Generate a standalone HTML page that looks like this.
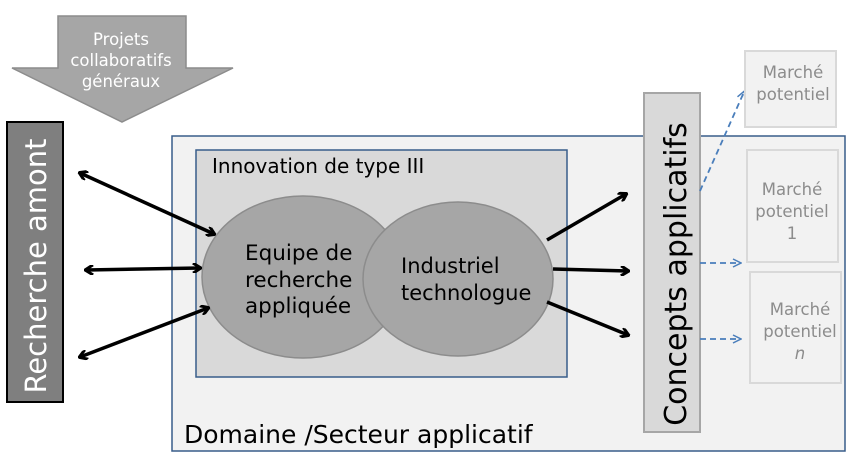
<!DOCTYPE html>
<html><head><meta charset="utf-8"><style>
html,body{margin:0;padding:0;background:#fff;}
svg{display:block;font-family:"DejaVu Sans","Liberation Sans",sans-serif;}
</style></head><body>
<svg width="850" height="461" viewBox="0 0 850 461" xmlns="http://www.w3.org/2000/svg">
<defs>
<marker id="ah" markerWidth="10" markerHeight="10" refX="8" refY="5" orient="auto-start-reverse" markerUnits="userSpaceOnUse">
<path d="M1,0 L9,5 L1,10" fill="none" stroke="#000" stroke-width="3"/>
</marker>
<marker id="bh" markerWidth="10" markerHeight="10" refX="8" refY="5" orient="auto" markerUnits="userSpaceOnUse">
<path d="M1,1 L9,5 L1,9" fill="none" stroke="#4a7ebb" stroke-width="1.5"/>
</marker>
</defs>
<polygon points="58,16 186,16 186,68 233,68 122,122 12,68 58,68" fill="#a6a6a6" stroke="#8c8c8c" stroke-width="1.5"/>
<text fill="#fff" font-size="16.5" text-anchor="middle"><tspan x="121" y="45">Projets</tspan><tspan x="121" y="66">collaboratifs</tspan><tspan x="121" y="87">généraux</tspan></text>
<rect x="7" y="122" width="56" height="280" fill="#7f7f7f" stroke="#000" stroke-width="2"/>
<text transform="translate(46,266) rotate(-90)" fill="#fff" font-size="29" text-anchor="middle">Recherche amont</text>
<rect x="172" y="136" width="673" height="315" fill="#f2f2f2" stroke="#385d8a" stroke-width="1.5"/>
<text x="184" y="443" font-size="25" fill="#000">Domaine /Secteur applicatif</text>
<rect x="196" y="150" width="371" height="227" fill="#d9d9d9" stroke="#385d8a" stroke-width="1.5"/>
<text x="212" y="173" font-size="20" fill="#000">Innovation  de type III</text>
<ellipse cx="303" cy="277" rx="101" ry="81" fill="#a6a6a6" stroke="#8c8c8c" stroke-width="1.5"/>
<ellipse cx="458" cy="279" rx="95" ry="77" fill="#a6a6a6" stroke="#8c8c8c" stroke-width="1.5"/>
<text font-size="21.5" fill="#000"><tspan x="245" y="260">Equipe de</tspan><tspan x="245" y="287">recherche</tspan><tspan x="245" y="313">appliquée</tspan></text>
<text font-size="21" fill="#000"><tspan x="401" y="273">Industriel</tspan><tspan x="401" y="300">technologue</tspan></text>
<g stroke="#000" stroke-width="3.5" fill="none">
<line x1="80" y1="173" x2="214" y2="234" marker-start="url(#ah)" marker-end="url(#ah)"/>
<line x1="86" y1="270" x2="200" y2="268" marker-start="url(#ah)" marker-end="url(#ah)"/>
<line x1="80" y1="357" x2="208" y2="308" marker-start="url(#ah)" marker-end="url(#ah)"/>
<line x1="547" y1="240" x2="626" y2="194" marker-end="url(#ah)"/>
<line x1="553" y1="269" x2="628" y2="271" marker-end="url(#ah)"/>
<line x1="547" y1="302" x2="628" y2="335" marker-end="url(#ah)"/>
</g>
<rect x="644" y="93" width="56" height="339" fill="#d9d9d9" stroke="#a6a6a6" stroke-width="2"/>
<text transform="translate(686,274) rotate(-90)" fill="#000" font-size="30" text-anchor="middle">Concepts applicatifs</text>
<g stroke="#4a7ebb" stroke-width="1.8" fill="none" stroke-dasharray="6,4">
<line x1="700" y1="191" x2="744" y2="92" marker-end="url(#bh)"/>
<line x1="700" y1="263" x2="740" y2="263" marker-end="url(#bh)"/>
<line x1="700" y1="339" x2="740" y2="339" marker-end="url(#bh)"/>
</g>
<g fill="#f2f2f2" stroke="#d9d9d9" stroke-width="2">
<rect x="745" y="51" width="91" height="76"/>
<rect x="747" y="150" width="91" height="112"/>
<rect x="750" y="272" width="91" height="111"/>
</g>
<g fill="#8c8c8c" font-size="16.5" text-anchor="middle">
<text><tspan x="793" y="78">Marché</tspan><tspan x="793" y="100">potentiel</tspan></text>
<text><tspan x="792" y="195">Marché</tspan><tspan x="792" y="217">potentiel</tspan><tspan x="792" y="239">1</tspan></text>
<text><tspan x="800" y="315">Marché</tspan><tspan x="800" y="337">potentiel</tspan><tspan x="800" y="359" font-style="italic">n</tspan></text>
</g>
</svg>
</body></html>
